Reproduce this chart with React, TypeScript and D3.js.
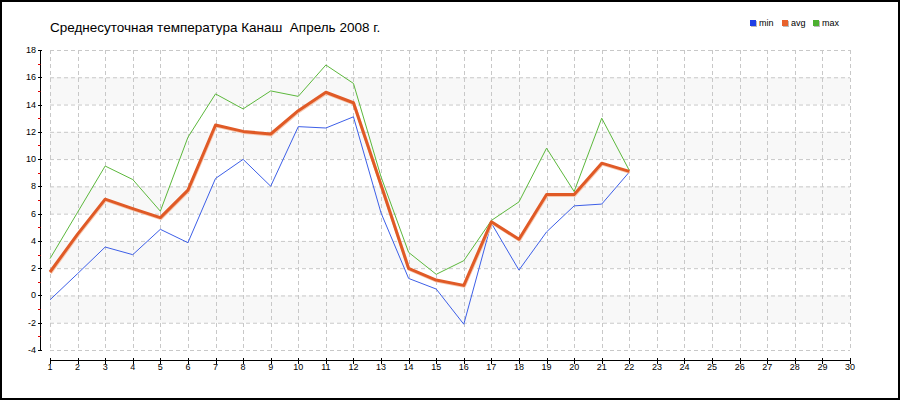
import React, { useEffect } from "react";
import * as d3 from "d3";

const title = "Среднесуточная температура Канаш  Апрель 2008 г.";
const days = [1, 2, 3, 4, 5, 6, 7, 8, 9, 10, 11, 12, 13, 14, 15, 16, 17, 18, 19, 20, 21, 22];
const minVals = [-0.32, 1.6, 3.55, 2.99, 4.85, 3.87, 8.58, 9.98, 8.01, 12.38, 12.28, 13.1, 6.05, 1.25, 0.47, -2.11, 5.3, 1.86, 4.66, 6.57, 6.7, 9.05];
const avgVals = [1.72, 4.5, 7.06, 6.37, 5.71, 7.72, 12.5, 12.03, 11.84, 13.55, 14.9, 14.13, 8.1, 1.98, 1.13, 0.74, 5.4, 4.12, 7.4, 7.4, 9.7, 9.1];
const maxVals = [2.7, 6.1, 9.49, 8.5, 6.18, 11.6, 14.78, 13.68, 15.0, 14.6, 16.9, 15.55, 8.7, 3.16, 1.55, 2.55, 5.5, 6.86, 10.8, 7.62, 13.0, 9.17];
const xTicks = d3.range(1, 31);
const yMajor = d3.range(-4, 19, 2);
const yMinor = d3.range(-3, 18, 2);
const bands = [[14, 16], [10, 12], [6, 8], [2, 4], [-2, 0]];
const legendNames = ["min", "avg", "max"];
const legendColors = ["#1f3fe6", "#e8622c", "#4cb030"];

export default function App() {
  useEffect(() => {
    document.body.style.margin = "0";
  }, []);
  const W = 900, H = 400;
  const x = d3.scaleLinear().domain([1, 30]).range([50, 850]);
  const y = d3.scaleLinear().domain([-4, 18]).range([350, 50]);
  const line = (vals: number[], dx = 0, dy = 0) =>
    d3.line<number>().x((_, i) => x(days[i]) + dx).y((v) => y(v) + dy)(vals) || "";
  const font = "'Liberation Sans', Arial, sans-serif";
  return (
    <svg width={W} height={H} style={{ display: "block" }} fontFamily={font}>
      <rect x={0} y={0} width={W} height={H} fill="#fff" />
      <rect x={1} y={1} width={W - 2} height={H - 2} fill="none" stroke="#000" strokeWidth={2} />
      <text x={50} y={32} fontSize={13.5} fill="#000" style={{ whiteSpace: "pre" }}>{title}</text>
      {legendNames.map((n, i) => {
        const lx = [750, 782, 813][i];
        return (
          <g key={n}>
            <rect x={lx + 1} y={21} width={6} height={6} fill="#bbb" />
            <rect x={lx} y={20} width={6} height={6} fill={legendColors[i]} />
            <text x={lx + 9} y={26} fontSize={9} fill="#000">{n}</text>
          </g>
        );
      })}
      {bands.map(([a, b]) => (
        <rect key={a} x={x(1)} y={y(b)} width={x(30) - x(1)} height={y(a) - y(b)} fill="#f8f8f8" />
      ))}
      {yMajor.map((v) => (
        <line key={"gy" + v} x1={x(1)} x2={x(30)} y1={y(v) + 0.5} y2={y(v) + 0.5} stroke="#c8c8c8" strokeDasharray="4,3" />
      ))}
      {xTicks.map((d) => (
        <line key={"gx" + d} x1={Math.round(x(d)) + 0.5} x2={Math.round(x(d)) + 0.5} y1={y(18)} y2={y(-4)} stroke="#c8c8c8" strokeDasharray="4,3" />
      ))}
      {/* y axis */}
      <line x1={40.5} x2={40.5} y1={y(18)} y2={y(-4) + 0.5} stroke="#000" />
      {yMajor.map((v) => (
        <g key={"ty" + v}>
          <line x1={38} x2={42} y1={Math.round(y(v)) + 0.5} y2={Math.round(y(v)) + 0.5} stroke="#000" />
          <text x={36} y={y(v) + 3} fontSize={9} textAnchor="end" fill="#000">{v}</text>
        </g>
      ))}
      {yMinor.map((v) => (
        <line key={"my" + v} x1={38} x2={40.5} y1={Math.round(y(v)) + 0.5} y2={Math.round(y(v)) + 0.5} stroke="#e00000" />
      ))}
      {/* x axis */}
      <line x1={x(1)} x2={x(30) + 0.5} y1={360.5} y2={360.5} stroke="#000" />
      {xTicks.map((d) => (
        <g key={"tx" + d}>
          <line x1={Math.round(x(d)) + 0.5} x2={Math.round(x(d)) + 0.5} y1={358} y2={364} stroke="#000" />
          <text x={x(d)} y={370} fontSize={9} textAnchor="middle" fill="#000">{d}</text>
        </g>
      ))}
      {/* series */}
      <path d={line(maxVals)} fill="none" stroke="#5cb83c" strokeWidth={1} />
      <path d={line(minVals)} fill="none" stroke="#3d5fe8" strokeWidth={1} />
      <path d={line(avgVals, 0.5, 1)} fill="none" stroke="#f6c8b0" strokeWidth={3} strokeLinejoin="round" />
      <path d={line(avgVals)} fill="none" stroke="#e05a26" strokeWidth={3} strokeLinejoin="round" />
    </svg>
  );
}
